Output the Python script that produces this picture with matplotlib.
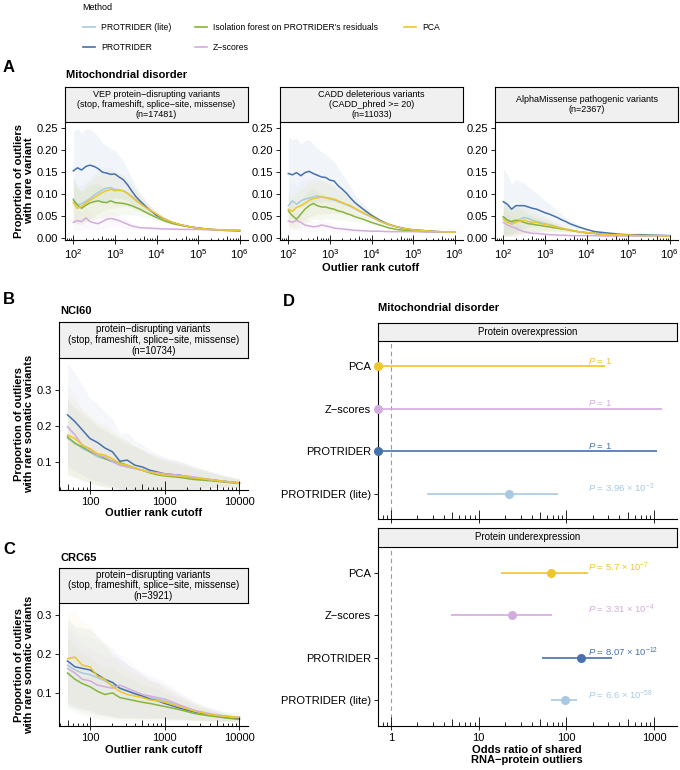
import numpy as np
import matplotlib
matplotlib.use("Agg")
import matplotlib.pyplot as plt
from matplotlib.lines import Line2D

plt.rcParams["font.family"] = ["Liberation Sans", "DejaVu Sans"]
plt.rcParams["mathtext.fontset"] = "custom"
plt.rcParams["mathtext.rm"] = "Liberation Sans"
plt.rcParams["mathtext.it"] = "Liberation Sans:italic"
plt.rcParams["mathtext.bf"] = "Liberation Sans:bold"

# === Data ===
methods = ["PROTRIDER (lite)", "PROTRIDER", "Isolation forest on PROTRIDER's residuals", "Z\u2212scores", "PCA"]
colors = ["#a9c9e3", "#4671ad", "#86b43e", "#d2acdf", "#eec62c"]

# panel A: proportion of outliers with rare variant vs outlier rank
rank_a = [100, 126, 158, 200, 251, 316, 398, 501, 631, 794, 1000, 1259, 1585, 1995, 2512,
          3162, 3981, 6310, 10000, 15849, 25119, 39811, 63096, 100000, 199526, 398107, 1000000]

a1_lite = [0.089, 0.076, 0.078, 0.084, 0.090, 0.098, 0.104, 0.110, 0.114, 0.115, 0.111, 0.110, 0.108, 0.103,
           0.096, 0.088, 0.080, 0.066, 0.054, 0.043, 0.035, 0.030, 0.026, 0.023, 0.020, 0.018, 0.017]
a1_prot = [0.153, 0.160, 0.155, 0.163, 0.166, 0.163, 0.158, 0.150, 0.148, 0.145, 0.146, 0.139, 0.133, 0.122,
           0.108, 0.095, 0.085, 0.067, 0.052, 0.043, 0.035, 0.030, 0.026, 0.023, 0.020, 0.018, 0.017]
a1_iso = [0.087, 0.075, 0.068, 0.075, 0.080, 0.083, 0.085, 0.082, 0.081, 0.085, 0.081, 0.080, 0.079, 0.077,
          0.074, 0.070, 0.066, 0.056, 0.047, 0.039, 0.033, 0.029, 0.026, 0.023, 0.020, 0.019, 0.018]
a1_z = [0.036, 0.040, 0.038, 0.046, 0.038, 0.035, 0.033, 0.038, 0.043, 0.045, 0.043, 0.040, 0.036, 0.032,
        0.028, 0.026, 0.024, 0.023, 0.022, 0.021, 0.021, 0.020, 0.020, 0.020, 0.019, 0.019, 0.018]
a1_pca = [0.081, 0.068, 0.072, 0.080, 0.086, 0.092, 0.098, 0.104, 0.108, 0.111, 0.108, 0.109, 0.107, 0.102,
          0.094, 0.086, 0.079, 0.066, 0.055, 0.043, 0.036, 0.030, 0.026, 0.023, 0.020, 0.019, 0.018]
a1_rel = [0.58, 0.56, 0.54, 0.52, 0.50, 0.48, 0.46, 0.44, 0.42, 0.40, 0.37, 0.35, 0.33, 0.30,
          0.28, 0.26, 0.23, 0.18, 0.13, 0.09, 0.07, 0.05, 0.04, 0.03, 0.02, 0.02, 0.02]

a2_lite = [0.074, 0.085, 0.077, 0.085, 0.089, 0.091, 0.094, 0.096, 0.094, 0.092, 0.089, 0.087, 0.083, 0.080,
           0.076, 0.072, 0.067, 0.057, 0.048, 0.038, 0.031, 0.026, 0.022, 0.019, 0.017, 0.015, 0.014]
a2_prot = [0.147, 0.144, 0.149, 0.142, 0.149, 0.152, 0.147, 0.143, 0.139, 0.138, 0.132, 0.130, 0.119, 0.111,
           0.102, 0.091, 0.081, 0.066, 0.052, 0.041, 0.032, 0.026, 0.022, 0.019, 0.017, 0.015, 0.014]
a2_iso = [0.062, 0.051, 0.043, 0.055, 0.066, 0.074, 0.079, 0.074, 0.071, 0.071, 0.068, 0.066, 0.062, 0.060,
          0.056, 0.053, 0.049, 0.043, 0.036, 0.030, 0.024, 0.020, 0.018, 0.017, 0.015, 0.014, 0.014]
a2_z = [0.039, 0.036, 0.041, 0.036, 0.030, 0.028, 0.026, 0.027, 0.030, 0.028, 0.026, 0.023, 0.022, 0.021,
        0.020, 0.019, 0.018, 0.017, 0.016, 0.016, 0.015, 0.015, 0.015, 0.015, 0.014, 0.014, 0.014]
a2_pca = [0.066, 0.061, 0.070, 0.074, 0.079, 0.086, 0.090, 0.092, 0.094, 0.092, 0.091, 0.089, 0.085, 0.081,
          0.077, 0.074, 0.068, 0.058, 0.049, 0.039, 0.032, 0.026, 0.022, 0.019, 0.017, 0.015, 0.014]
a2_rel = [0.56, 0.55, 0.53, 0.51, 0.49, 0.47, 0.45, 0.43, 0.41, 0.39, 0.37, 0.35, 0.33, 0.31,
          0.29, 0.26, 0.23, 0.18, 0.13, 0.09, 0.07, 0.05, 0.04, 0.03, 0.02, 0.02, 0.02]

a3_lite = [0.047, 0.041, 0.036, 0.039, 0.043, 0.047, 0.045, 0.041, 0.038, 0.036, 0.033, 0.031, 0.029, 0.026,
           0.023, 0.021, 0.019, 0.015, 0.013, 0.011, 0.009, 0.008, 0.008, 0.007, 0.006, 0.006, 0.005]
a3_prot = [0.083, 0.077, 0.066, 0.074, 0.074, 0.074, 0.071, 0.068, 0.066, 0.062, 0.058, 0.055, 0.051, 0.047,
           0.042, 0.038, 0.033, 0.026, 0.020, 0.015, 0.013, 0.011, 0.009, 0.008, 0.008, 0.007, 0.006]
a3_iso = [0.049, 0.041, 0.038, 0.041, 0.039, 0.036, 0.033, 0.032, 0.030, 0.029, 0.027, 0.026, 0.024, 0.023,
          0.021, 0.020, 0.018, 0.015, 0.012, 0.011, 0.009, 0.008, 0.008, 0.007, 0.006, 0.006, 0.005]
a3_z = [0.036, 0.030, 0.026, 0.023, 0.018, 0.015, 0.013, 0.011, 0.011, 0.010, 0.009, 0.008, 0.008, 0.007,
        0.007, 0.007, 0.006, 0.006, 0.006, 0.006, 0.005, 0.005, 0.005, 0.005, 0.005, 0.005, 0.005]
a3_pca = [0.043, 0.036, 0.032, 0.036, 0.039, 0.041, 0.038, 0.036, 0.036, 0.033, 0.032, 0.030, 0.027, 0.025,
          0.023, 0.020, 0.019, 0.015, 0.013, 0.011, 0.009, 0.008, 0.008, 0.007, 0.006, 0.006, 0.005]
a3_rel = [0.90, 0.88, 0.85, 0.80, 0.75, 0.70, 0.65, 0.60, 0.56, 0.52, 0.48, 0.44, 0.40, 0.36,
          0.32, 0.28, 0.25, 0.20, 0.15, 0.12, 0.10, 0.08, 0.06, 0.05, 0.04, 0.03, 0.03]

# panels B / C: proportion of outliers with rare somatic variants
rank_bc = [50, 63, 79, 100, 126, 158, 200, 251, 316, 398, 501, 631, 794, 1000, 1585, 2512, 3981, 6310, 10000]

b_lite = [0.165, 0.154, 0.137, 0.128, 0.114, 0.109, 0.100, 0.091, 0.086, 0.081, 0.077, 0.070, 0.067, 0.064,
          0.060, 0.055, 0.050, 0.046, 0.041]
b_prot = [0.231, 0.212, 0.189, 0.165, 0.154, 0.139, 0.128, 0.102, 0.105, 0.091, 0.086, 0.077, 0.072, 0.067,
          0.063, 0.055, 0.051, 0.046, 0.042]
b_iso = [0.170, 0.151, 0.142, 0.128, 0.119, 0.109, 0.102, 0.098, 0.091, 0.083, 0.077, 0.070, 0.064, 0.061,
         0.057, 0.051, 0.048, 0.044, 0.040]
b_z = [0.198, 0.175, 0.147, 0.133, 0.119, 0.114, 0.102, 0.091, 0.086, 0.083, 0.077, 0.072, 0.070, 0.067,
       0.063, 0.058, 0.051, 0.046, 0.042]
b_pca = [0.175, 0.165, 0.147, 0.137, 0.123, 0.119, 0.109, 0.095, 0.091, 0.083, 0.077, 0.072, 0.067, 0.063,
         0.061, 0.055, 0.051, 0.046, 0.041]
b_rel = [0.62, 0.64, 0.66, 0.68, 0.70, 0.72, 0.73, 0.74, 0.74, 0.74, 0.73, 0.72, 0.70, 0.68,
         0.62, 0.55, 0.45, 0.35, 0.28]

c_lite = [0.171, 0.159, 0.151, 0.147, 0.139, 0.131, 0.120, 0.112, 0.105, 0.098, 0.092, 0.088, 0.084, 0.079,
          0.066, 0.055, 0.047, 0.041, 0.037]
c_prot = [0.182, 0.167, 0.163, 0.159, 0.147, 0.135, 0.127, 0.112, 0.105, 0.098, 0.092, 0.084, 0.080, 0.073,
          0.061, 0.051, 0.044, 0.037, 0.033]
c_iso = [0.151, 0.135, 0.124, 0.116, 0.104, 0.096, 0.100, 0.088, 0.084, 0.080, 0.076, 0.073, 0.069, 0.065,
         0.057, 0.047, 0.041, 0.036, 0.032]
c_z = [0.163, 0.151, 0.135, 0.131, 0.120, 0.116, 0.112, 0.120, 0.112, 0.104, 0.096, 0.092, 0.088, 0.084,
       0.069, 0.055, 0.045, 0.040, 0.037]
c_pca = [0.188, 0.192, 0.171, 0.167, 0.143, 0.135, 0.116, 0.104, 0.096, 0.092, 0.088, 0.082, 0.080, 0.076,
         0.065, 0.053, 0.045, 0.040, 0.037]
c_rel = [0.60, 0.62, 0.64, 0.66, 0.68, 0.68, 0.68, 0.68, 0.66, 0.64, 0.62, 0.60, 0.58, 0.55,
         0.50, 0.42, 0.35, 0.28, 0.22]

# panel D: odds ratios (top to bottom), 0 = pinned to left edge
d_methods = ["PCA", "Z\u2212scores", "PROTRIDER", "PROTRIDER (lite)"]
d_colors = ["#eec62c", "#d2acdf", "#4671ad", "#a9c9e3"]
over_or = [0, 0, 0, 22]
over_lo = [0, 0, 0, 2.6]
over_hi = [277, 1230, 1070, 81]
over_p = ["$P$ = 1", "$P$ = 1", "$P$ = 1", "$P$ = 3.96 \u00d7 10$^{-3}$"]
under_or = [66, 23.7, 148, 95]
under_lo = [17.8, 4.8, 52, 66]
under_hi = [174, 69, 333, 133]
under_p = ["$P$ = 5.7 \u00d7 10$^{-7}$", "$P$ = 3.31 \u00d7 10$^{-4}$",
           "$P$ = 8.07 \u00d7 10$^{-12}$", "$P$ = 6.6 \u00d7 10$^{-58}$"]

# === Layout helpers (pixel based) ===
W, H = 680, 770
fig = plt.figure(figsize=(W / 100, H / 100), dpi=100)


def rect(x0, y0, x1, y1):
    return [x0 / W, 1 - y1 / H, (x1 - x0) / W, (y1 - y0) / H]


def ftext(x, y, s, **kw):
    fig.text(x / W, 1 - y / H, s, **kw)


def strip(x0, y0, x1, y1, label, size=6.5):
    s = fig.add_axes(rect(x0, y0, x1, y1))
    s.set_facecolor("#f0f0f0")
    s.set_xticks([])
    s.set_yticks([])
    for sp in s.spines.values():
        sp.set_linewidth(0.8)
    s.text(0.5, 0.5, label, ha="center", va="center", fontsize=size, linespacing=1.1,
           transform=s.transAxes)


def logticks(ax, e0, e1, h_px, long=5.5, mid=4.0, short=2.5):
    lo, hi = ax.get_xlim()
    tr = ax.get_xaxis_transform()
    for e in range(e0, e1 + 1):
        for k in range(1, 10):
            v = k * 10.0 ** e
            if v < lo or v > hi:
                continue
            L = long if k == 1 else (mid if k == 5 else short)
            ax.plot([v, v], [0, L / h_px], transform=tr, color="black", lw=0.6,
                    clip_on=False, solid_capstyle="butt")


def style(ax):
    for side in ("top", "right"):
        ax.spines[side].set_visible(False)
    for side in ("left", "bottom"):
        ax.spines[side].set_linewidth(0.8)
    ax.tick_params(axis="both", length=3, width=0.6, labelsize=8, pad=2, color="black")
    ax.tick_params(axis="x", which="minor", bottom=False)
    ax.set_facecolor("none")


def curves(ax, ranks, series, rel, alpha=0.07):
    rel = np.array(rel)
    for ys, col in zip(series, colors):
        ys = np.array(ys)
        ax.fill_between(ranks, ys * (1 - rel), ys * (1 + rel), color=col, alpha=alpha, lw=0)
    for ys, col in zip(series, colors):
        ax.plot(ranks, ys, color=col, lw=1.1)


# === Legend ===
ftext(82, 8, "Method", fontsize=6.5, ha="left", va="center")
leg_pos = [(83, 27), (83, 47), (195, 27), (195, 47), (404, 27)]
for (lx, ly), name, col in zip(leg_pos, methods, colors):
    fig.add_artist(Line2D([lx / W, (lx + 12) / W], [1 - ly / H, 1 - ly / H], color=col, lw=1.2))
    ftext(lx + 18, ly, name, fontsize=6.2, ha="left", va="center")

# === Panel A ===
ftext(3, 67, "A", fontsize=12, fontweight="bold", ha="left", va="center")
ftext(66, 75, "Mitochondrial disorder", fontsize=8, fontweight="bold", ha="left", va="center")
a_boxes = [(65, 248), (280, 463), (495, 678)]
a_strips = ["VEP protein\u2212disrupting variants\n(stop, frameshift, splice\u2212site, missense)\n(n=17481)",
            "CADD deleterious variants\n(CADD_phred >= 20)\n(n=11033)",
            "AlphaMissense pathogenic variants\n(n=2367)"]
a_series = [[a1_lite, a1_prot, a1_iso, a1_z, a1_pca],
            [a2_lite, a2_prot, a2_iso, a2_z, a2_pca],
            [a3_lite, a3_prot, a3_iso, a3_z, a3_pca]]
a_rels = [a1_rel, a2_rel, a3_rel]
for (x0, x1), lab, ser, rel in zip(a_boxes, a_strips, a_series, a_rels):
    strip(x0, 87, x1, 122, lab)
    ax = fig.add_axes(rect(x0, 122, x1, 240))
    curves(ax, rank_a, ser, rel)
    ax.set_xscale("log")
    ax.set_xlim(10 ** 1.8, 10 ** 6.2)
    ax.set_ylim(-0.004, 0.264)
    ax.set_yticks([0, 0.05, 0.10, 0.15, 0.20, 0.25])
    ax.set_yticklabels(["0.00", "0.05", "0.10", "0.15", "0.20", "0.25"])
    ax.set_xticks([1e2, 1e3, 1e4, 1e5, 1e6])
    ax.set_xticklabels(["$10^{2}$", "$10^{3}$", "$10^{4}$", "$10^{5}$", "$10^{6}$"])
    style(ax)
    logticks(ax, 1, 6, 118)
ftext(371, 268, "Outlier rank cutoff", fontsize=8, fontweight="bold", ha="center", va="center")
ftext(24, 181, "Proportion of outliers\nwith rare variant", fontsize=8, fontweight="bold",
      rotation=90, ha="center", va="center", linespacing=1.1)

# === Panels B and C ===
bc = [("B", "NCI60", 300, 311, 322, 358, 490, 513, 0.022, 0.389,
       "protein\u2212disrupting variants\n(stop, frameshift, splice\u2212site, missense)\n(n=10734)",
       [b_lite, b_prot, b_iso, b_z, b_pca], b_rel),
      ("C", "CRC65", 549, 558, 568, 603, 726, 750, 0.015, 0.331,
       "protein\u2212disrupting variants\n(stop, frameshift, splice\u2212site, missense)\n(n=3921)",
       [c_lite, c_prot, c_iso, c_z, c_pca], c_rel)]
for letter, title, ly, ty, s0, s1, bot, xl_y, ylo, yhi, lab, ser, rel in bc:
    ftext(3, ly, letter, fontsize=12, fontweight="bold", ha="left", va="center")
    ftext(60, ty, title, fontsize=8, fontweight="bold", ha="left", va="center")
    strip(59, s0, 248, s1, lab, size=7)
    ax = fig.add_axes(rect(59, s1, 248, bot))
    curves(ax, rank_bc, ser, rel, alpha=0.05)
    ax.set_xscale("log")
    ax.set_xlim(10 ** 1.585, 10 ** 4.115)
    ax.set_ylim(ylo, yhi)
    ax.set_yticks([0.1, 0.2, 0.3])
    ax.set_yticklabels(["0.1", "0.2", "0.3"])
    ax.set_xticks([100, 1000, 10000])
    ax.set_xticklabels(["100", "1000", "10000"])
    style(ax)
    logticks(ax, 1, 4, bot - s1, long=9, mid=6, short=3.5)
    ftext(154, xl_y, "Outlier rank cutoff", fontsize=8, fontweight="bold", ha="center", va="center")
    ftext(24, (s1 + bot) / 2, "Proportion of outliers\nwith rare somatic variants", fontsize=8,
          fontweight="bold", rotation=90, ha="center", va="center", linespacing=1.1)

# === Panel D ===
ftext(283, 302, "D", fontsize=12, fontweight="bold", ha="left", va="center")
ftext(378, 308, "Mitochondrial disorder", fontsize=8, fontweight="bold", ha="left", va="center")
XMIN_D, XMAX_D = 0.71, 1820
d_sets = [("Protein overexpression", 323, 341, 519, over_or, over_lo, over_hi, over_p, False),
          ("Protein underexpression", 528, 547, 726, under_or, under_lo, under_hi, under_p, True)]
ypos = np.arange(len(d_methods))[::-1]
for title, s0, s1, bot, od, lo, hi, plab, show_lab in d_sets:
    strip(378, s0, 677, s1, title, size=7)
    ax = fig.add_axes(rect(378, s1, 677, bot))
    ax.set_xscale("log")
    ax.set_xlim(XMIN_D, XMAX_D)
    ax.set_ylim(-0.6, len(d_methods) - 0.4)
    ax.axvline(1, color="#9a9a9a", lw=0.8, ls=(0, (4, 3)))
    od_c = np.maximum(np.array(od, dtype=float), XMIN_D)
    lo_c = np.maximum(np.array(lo, dtype=float), XMIN_D)
    for y, o, l, h, col, p in zip(ypos, od_c, lo_c, hi, d_colors, plab):
        ax.plot([l, h], [y, y], color=col, lw=1.2, clip_on=False, solid_capstyle="butt")
        ax.plot(o, y, "o", color=col, ms=5.5, clip_on=False, zorder=5)
        ax.annotate(p, (178, y), xytext=(0, 4), textcoords="offset points", color=col,
                    fontsize=6.8, ha="left", va="center")
    ax.set_yticks(ypos)
    ax.set_yticklabels(d_methods)
    ax.set_xticks([1, 10, 100, 1000])
    ax.set_xticklabels(["1", "10", "100", "1000"] if show_lab else [])
    style(ax)
    logticks(ax, -1, 3, bot - s1, long=9, mid=7, short=4)
ftext(527, 755, "Odds ratio of shared\nRNA\u2212protein outliers", fontsize=8, fontweight="bold",
      ha="center", va="center", linespacing=1.1)

fig.savefig("out.png", dpi=100)
